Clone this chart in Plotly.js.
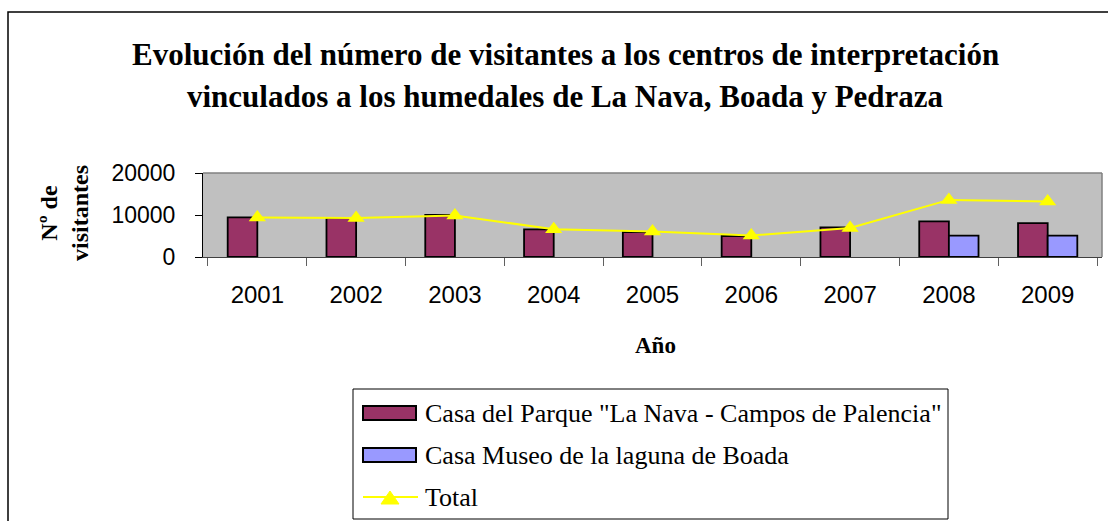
<!DOCTYPE html>
<html>
<head>
<meta charset="utf-8">
<script src="https://cdn.plot.ly/plotly-3.0.1.min.js"></script>
<style>html,body{margin:0;padding:0;background:#fff;}#chart{width:1108px;height:521px;}</style>
</head>
<body>
<div id="chart"></div>
<script>
// Data
const years = ["2001", "2002", "2003", "2004", "2005", "2006", "2007", "2008", "2009"];
const casaParque = [9450, 9250, 10000, 6600, 5950, 5000, 7050, 8500, 8050];
const casaBoada = [null, null, null, null, null, null, null, 5100, 5100];
const totalVisitantes = [9400, 9300, 9900, 6600, 6100, 5100, 6900, 13600, 13200];
const seriesNames = ['Casa del Parque "La Nava - Campos de Palencia"', 'Casa Museo de la laguna de Boada', 'Total'];
const seriesColors = ["#993366", "#9999FF", "#FFFF00"];
const yTicks = [0, 10000, 20000];

const titleLine1 = "Evolución del número de visitantes a los centros de interpretación";
const titleLine2 = "vinculados a los humedales de La Nava, Boada y Pedraza";

const serif = "Liberation Serif, Times New Roman, serif";
const sans = "Liberation Sans, Arial, sans-serif";

// plot area pixel geometry
const L = 203, R = 1102, T = 173, B = 257, W = 1108, H = 521;
const px = x => (x - L) / (R - L);
const py = y => (B - y) / (B - T);

const traces = [
  {type: "bar", name: seriesNames[0], x: years, y: casaParque, showlegend: false,
   marker: {color: seriesColors[0], line: {color: "#000", width: 1.8}}},
  {type: "bar", name: seriesNames[1], x: years, y: casaBoada, showlegend: false,
   marker: {color: seriesColors[1], line: {color: "#000", width: 1.8}}},
  {type: "scatter", mode: "lines+markers", name: seriesNames[2], x: years, y: totalVisitantes, showlegend: false,
   line: {color: seriesColors[2], width: 2}, marker: {symbol: "triangle-up", size: 15, color: seriesColors[2]}}
];

// Legend (drawn as shapes + annotations to match the original style)
const legShapes = [
  {type: "rect", xref: "paper", yref: "paper", x0: px(353), x1: px(948), y0: py(519), y1: py(389),
   line: {color: "#000", width: 1}, fillcolor: "#fff"},
  {type: "rect", xref: "paper", yref: "paper", x0: px(363), x1: px(416), y0: py(420), y1: py(406),
   line: {color: "#000", width: 2}, fillcolor: seriesColors[0]},
  {type: "rect", xref: "paper", yref: "paper", x0: px(363), x1: px(416), y0: py(462), y1: py(448),
   line: {color: "#000", width: 2}, fillcolor: seriesColors[1]},
  {type: "line", xref: "paper", yref: "paper", x0: px(363), x1: px(418), y0: py(497), y1: py(497),
   line: {color: seriesColors[2], width: 2}},
  {type: "path", xref: "paper", yref: "paper",
   path: "M" + px(381) + "," + py(504) + " L" + px(399) + "," + py(504) + " L" + px(390) + "," + py(491) + " Z",
   line: {color: seriesColors[2], width: 1}, fillcolor: seriesColors[2]}
];
const legRows = [413, 455, 497];
const legAnn = seriesNames.map((n, i) => ({
  text: n, xref: "paper", yref: "paper", x: px(423), y: py(legRows[i]), xanchor: "left", yanchor: "middle",
  showarrow: false, font: {family: serif, size: 26, color: "#000"}
}));

const layout = {
  width: W, height: H,
  margin: {l: L, r: W - R, t: T, b: H - B, pad: 0},
  paper_bgcolor: "#fff", plot_bgcolor: "#C0C0C0",
  barmode: "group", bargap: 0.4, bargroupgap: 0,
  showlegend: false,
  xaxis: {type: "category", tickson: "boundaries", ticks: "outside", ticklen: 8, tickcolor: "#606060",
    showline: true, linecolor: "#404040", linewidth: 1, showgrid: false, zeroline: false,
    tickfont: {family: sans, size: 24, color: "#000"}, ticklabelstandoff: 16, fixedrange: true},
  yaxis: {range: [0, 20000], tickvals: yTicks, ticktext: yTicks.map(String), ticks: "outside", ticklen: 7,
    tickcolor: "#000", showline: true, linecolor: "#000", linewidth: 1, showgrid: false, zeroline: false,
    tickfont: {family: sans, size: 23, color: "#000"}, ticklabelstandoff: 15, fixedrange: true},
  shapes: [
    {type: "rect", xref: "paper", yref: "paper", x0: px(8), x1: px(1120), y0: py(540), y1: py(12),
     line: {color: "#000", width: 1.5}, fillcolor: "rgba(0,0,0,0)", layer: "below"},
    {type: "line", xref: "paper", yref: "paper", x0: 0, x1: 1, y0: 1, y1: 1, line: {color: "#808080", width: 1.5}},
    {type: "line", xref: "paper", yref: "paper", x0: 1, x1: 1, y0: 0, y1: 1, line: {color: "#808080", width: 1.5}}
  ].concat(legShapes),
  annotations: [
    {text: "<b>" + titleLine1 + "</b>", xref: "paper", yref: "paper", x: px(565), y: py(54),
     xanchor: "center", yanchor: "middle", showarrow: false, font: {family: serif, size: 31, color: "#000"}},
    {text: "<b>" + titleLine2 + "</b>", xref: "paper", yref: "paper", x: px(565), y: py(96),
     xanchor: "center", yanchor: "middle", showarrow: false, font: {family: serif, size: 31, color: "#000"}},
    {text: "<b>Nº de<br>visitantes</b>", xref: "paper", yref: "paper", x: px(64), y: py(213),
     xanchor: "center", yanchor: "middle", textangle: -90, showarrow: false,
     font: {family: serif, size: 24, color: "#000"}},
    {text: "<b>Año</b>", xref: "paper", yref: "paper", x: px(655), y: py(345),
     xanchor: "center", yanchor: "middle", showarrow: false, font: {family: serif, size: 23, color: "#000"}}
  ].concat(legAnn)
};

Plotly.newPlot("chart", traces, layout, {displayModeBar: false, staticPlot: true});
</script>
</body>
</html>
